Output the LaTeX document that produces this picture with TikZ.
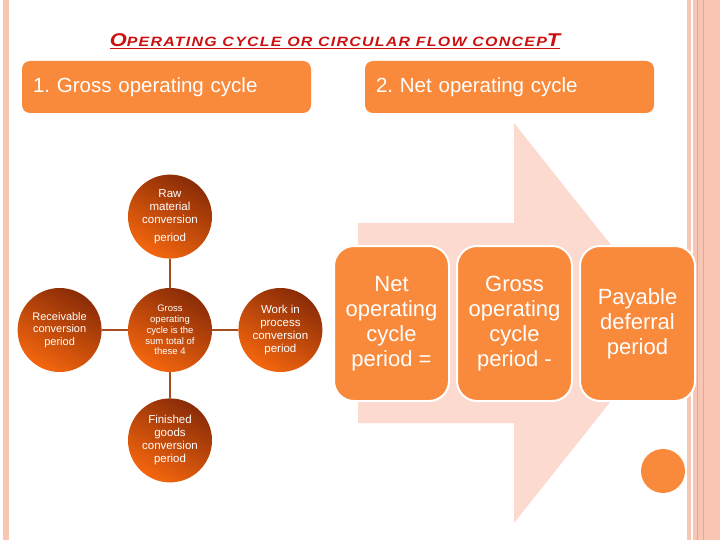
\documentclass[tikz,border=0pt]{standalone}
\usepackage{fontspec}
\setmainfont{Liberation Sans}
\newfontfamily\titlefont[LetterSpace=8]{Liberation Sans}
\usetikzlibrary{positioning}

\definecolor{hdorange}{HTML}{F98A3C}
\definecolor{boxorange}{HTML}{F98A3C}
\definecolor{arrowpink}{HTML}{FDDACF}
\definecolor{sidepink}{HTML}{F9C6B4}
\definecolor{sideline}{HTML}{F3A283}
\definecolor{cdark}{HTML}{8A2C07}
\definecolor{clight}{HTML}{F4660E}
\definecolor{linkbrown}{HTML}{A54C1E}
\definecolor{titlered}{HTML}{CC1010}

\newcommand{\titlebig}[1]{{\fontsize{18.5}{20}\selectfont #1}}
\newcommand{\titlesmall}[1]{{\fontsize{13.5}{15}\selectfont #1}}

\tikzset{
  headbox/.style={fill=hdorange, rounded corners=8pt, minimum width=289pt, minimum height=52pt,
    text width=267pt, align=left, text=white, font=\fontsize{20.5}{22}\selectfont, inner sep=0pt},
  phase/.style={circle, minimum size=84pt, inner sep=0pt, top color=cdark, bottom color=clight,
    shading angle=-30, text=white, align=center, font=\fontsize{11.5}{13}\selectfont},
  link/.style={draw=linkbrown, line width=2.5pt},
  termbox/.style={draw=white, line width=2pt, fill=boxorange, rounded corners=20pt,
    minimum width=115pt, minimum height=155pt, align=center, text=white,
    font=\fontsize{22}{25}\selectfont, inner sep=0pt}
}

\frenchspacing
\begin{document}
\begin{tikzpicture}[x=1pt, y=-1pt, node distance=26pt]
  \useasboundingbox (0,0) rectangle (720,540);
  % side stripes
  \fill[sidepink] (3,0) rectangle (9,540);
  \fill[sidepink] (687,0) rectangle (720,540);
  \fill[white] (691,0) rectangle (692.5,540);
  \fill[sideline] (696.5,0) rectangle (697.5,540);
  \fill[sideline] (702.5,0) rectangle (703.5,540);

  \node (title) at (335,41) {\scalebox{1.18}[1]{\titlefont\bfseries\itshape\color{titlered}%
    \underline{\titlebig{O}\titlesmall{PERATING CYCLE OR CIRCULAR FLOW CONCEP}\titlebig{T}}}};

  \node[headbox] (gross) at (166.5,87) {1. Gross operating cycle};
  \node[headbox] (net) at (509.5,87) {2. Net operating cycle};

  % background arrow
  \fill[arrowpink] (358,223) -- (514,223) -- (514,123) -- (673,323) -- (514,523) -- (514,423) -- (358,423) -- cycle;

  % gross cycle
  \node[phase, font=\fontsize{9.5}{10.8}\selectfont] (hub) at (170,330) {Gross\\operating\\cycle is the\\sum total of\\these 4};
  \node[phase, above=29pt of hub] (rawmat) {Raw\\material\\conversion\\[5pt]period};
  \node[phase, right=of hub] (wip) {Work in\\process\\conversion\\period};
  \node[phase, below=of hub] (finished) {Finished\\goods\\conversion\\period};
  \node[phase, left=of hub, font=\fontsize{11}{12.5}\selectfont] (receivable) {Receivable\\conversion\\period};
  \draw[link] (hub) -- (rawmat);
  \draw[link] (hub) -- (wip);
  \draw[link] (hub) -- (finished);
  \draw[link] (hub) -- (receivable);

  % net cycle
  \node[termbox] (netperiod) at (391.5,323.5) {Net\\operating\\cycle\\period =};
  \node[termbox, right=6pt of netperiod] (grossperiod) {Gross\\operating\\cycle\\period -};
  \node[termbox, right=6pt of grossperiod] (payable) {Payable\\deferral\\period};

  \node[circle, fill=hdorange, minimum size=44pt] (dot) at (663,471) {};
\end{tikzpicture}
\end{document}
